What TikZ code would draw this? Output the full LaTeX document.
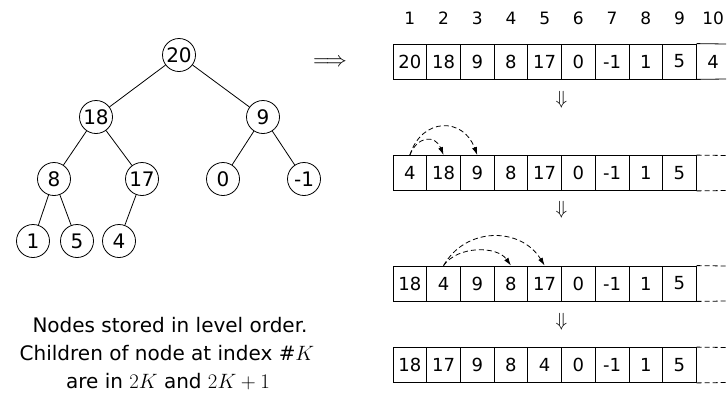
\documentclass[tikz,border=0pt]{standalone}
\usepackage{fontspec}
\setmainfont{DejaVu Sans}
\usetikzlibrary{arrows.meta}
\tikzset{
  tnode/.style={circle,draw,line width=0.8pt,minimum size=33pt,inner sep=0pt,font=\fontsize{20}{24}\selectfont},
  tedge/.style={line width=0.8pt},
  cell/.style={draw,line width=0.8pt,minimum width=33.7pt,minimum height=35pt,inner sep=0pt,font=\fontsize{18}{21}\selectfont},
  ctext/.style={inner sep=0pt,font=\fontsize{18}{21}\selectfont},
  idx/.style={font=\fontsize{17}{20}\selectfont,inner sep=0pt},
  dline/.style={line width=0.8pt,dash pattern=on 5pt off 3pt},
  darr/.style={line width=0.8pt,dash pattern=on 5pt off 3pt,-{Latex[length=8pt,width=5pt]}},
  txt/.style={font=\fontsize{20}{24}\selectfont,inner sep=0pt},
  bigarr/.style={inner sep=0pt,scale=2.1},
  downarr/.style={inner sep=0pt,scale=1.9}
}
\begin{document}
\begin{tikzpicture}[x=1pt,y=-1pt]
\useasboundingbox (0,0) rectangle (727,394);
% tree
\node[tnode] (t20) at (179,55) {20};
\node[tnode] (t18) at (96,117) {18};
\node[tnode] (t9) at (263,117) {9};
\node[tnode] (t8) at (54,179) {8};
\node[tnode] (t17) at (142,179) {17};
\node[tnode] (t0) at (223,179) {0};
\node[tnode] (tm1) at (304,179) {-1};
\node[tnode] (t1) at (33,241) {1};
\node[tnode] (t5) at (77,241) {5};
\node[tnode] (t4) at (119,241) {4};
\draw[tedge] (t20) -- (t18);
\draw[tedge] (t20) -- (t9);
\draw[tedge] (t18) -- (t8);
\draw[tedge] (t18) -- (t17);
\draw[tedge] (t9) -- (t0);
\draw[tedge] (t9) -- (tm1);
\draw[tedge] (t8) -- (t1);
\draw[tedge] (t8) -- (t5);
\draw[tedge] (t17) -- (t4);
\node[bigarr] (impl) at (330,63) {$\Longrightarrow$};
% indices
\foreach \i in {1,...,10} \node[idx] (i\i) at ({393+(\i-0.5)*33.7},18) {\i};
% row 1
\foreach \v [count=\i] in {20,18,9,8,17,0,-1,1,5} \node[cell] (a\i) at ({393+(\i-0.5)*33.7},61.5) {\v};
\node[ctext] (a10) at ({393+9.5*33.7},61.5) {4};
\coordinate (a10t) at (726,44);
\coordinate (a10b) at (726,79);
\draw[line width=0.8pt] (a9.north east) -- (a10t);
\draw[line width=0.8pt] (a9.south east) -- (a10b);
% row 2
\foreach \v [count=\i] in {4,18,9,8,17,0,-1,1,5} \node[cell] (b\i) at ({393+(\i-0.5)*33.7},173) {\v};
\coordinate (b10t) at (727,155.5);
\coordinate (b10b) at (727,190.5);
\draw[dline] (b9.north east) -- (b10t);
\draw[dline] (b9.south east) -- (b10b);
% row 3
\foreach \v [count=\i] in {18,4,9,8,17,0,-1,1,5} \node[cell] (c\i) at ({393+(\i-0.5)*33.7},283.5) {\v};
\coordinate (c10t) at (727,266);
\coordinate (c10b) at (727,301);
\draw[dline] (c9.north east) -- (c10t);
\draw[dline] (c9.south east) -- (c10b);
% row 4
\foreach \v [count=\i] in {18,17,9,8,4,0,-1,1,5} \node[cell] (d\i) at ({393+(\i-0.5)*33.7},365) {\v};
\coordinate (d10t) at (727,347.5);
\coordinate (d10b) at (727,382.5);
\draw[dline] (d9.north east) -- (d10t);
\draw[dline] (d9.south east) -- (d10b);
% down arrows
\node[downarr] (dn1) at (561.5,100) {$\Downarrow$};
\node[downarr] (dn2) at (561.5,210) {$\Downarrow$};
\node[downarr] (dn3) at (561.5,322) {$\Downarrow$};
% swap arcs
\draw[darr] (b1.north) .. controls +(8,-20) and +(-8,-20) .. (b2.north);
\draw[darr] (b1.north) .. controls +(12,-38) and +(-14,-38) .. (b3.north);
\draw[darr] (c2.north) .. controls +(14,-20) and +(-14,-20) .. (c4.north);
\draw[darr] (c2.north) .. controls +(22,-39) and +(-24,-39) .. (c5.north);
% caption
\node[txt] (l1) at (170,325) {Nodes stored in level order.};
\node[txt] (l2) at (167,353) {Children of node at index \#$K$};
\node[txt] (l3) at (168,382) {are in $2K$ and $2K+1$};
\end{tikzpicture}
\end{document}
